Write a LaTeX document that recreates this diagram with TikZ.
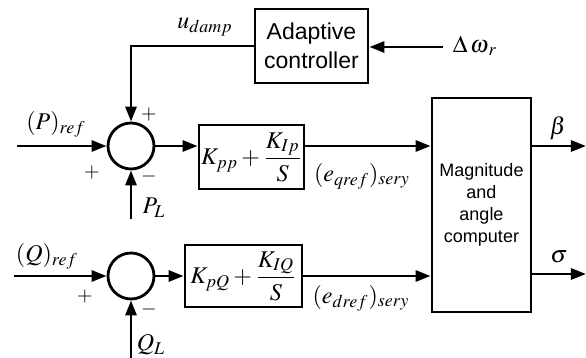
\documentclass[tikz,border=0pt]{standalone}
\usepackage{mathptmx}
\usepackage[no-math]{fontspec}
\setmainfont{Liberation Sans}
\usetikzlibrary{arrows.meta}
\begin{document}
\begin{tikzpicture}[x=0.5pt,y=-0.5pt,
  line width=1.4pt,
  blk/.style={draw, line width=1.4pt, inner sep=0pt, align=center},
  sumc/.style={draw, circle, minimum size=23pt, inner sep=0pt},
  arr/.style={-{Triangle[length=7.5pt,width=5.5pt]}},
  lbl/.style={font=\fontsize{12}{14}\selectfont, inner sep=0pt},
  sgn/.style={font=\fontsize{10}{12}\selectfont, inner sep=0pt},
]
\useasboundingbox (0,0) rectangle (586,358);
% blocks
\node[blk, minimum width=56.5pt, minimum height=37pt, font=\fontsize{11.5}{14.5}\selectfont] (adapt) at (311.5,46) {Adaptive\\controller};
\node[sumc] (sum1) at (131,146) {};
\node[sumc] (sum2) at (131,276) {};
\node[blk, minimum width=52.5pt, minimum height=32pt] (pi1) at (251.5,157) {\fontsize{12}{14}\selectfont$\displaystyle K_{pp}+\frac{K_{Ip}}{S}$};
\node[blk, minimum width=58.5pt, minimum height=31pt] (pi2) at (243.5,276) {\fontsize{12}{14}\selectfont$\displaystyle K_{pQ}+\frac{K_{IQ}}{S}$};
\node[blk, minimum width=49.5pt, minimum height=107pt, font=\fontsize{9}{11}\selectfont] (mag) at (481.5,205) {Magnitude\\and\\angle\\computer};
% free ends
\coordinate (pin) at (17,146);
\coordinate (qin) at (14,276);
\coordinate (pl) at (131,219);
\coordinate (ql) at (131,358);
\coordinate (dw) at (443,47);
\coordinate (bout) at (586,146);
\coordinate (sout) at (586,274);
% connectors
\draw[arr] (dw) -- (dw -| adapt.east);
\draw[arr] (adapt.west) -- (adapt.west -| sum1) -- (sum1.north);
\draw[arr] (pin) -- (sum1.west);
\draw[arr] (pl) -- (sum1.south);
\draw[arr] (sum1.east) -- (sum1.east -| pi1.west);
\draw[arr] (sum1 -| pi1.east) -- (sum1 -| mag.west);
\draw[arr] (qin) -- (sum2.west);
\draw[arr] (ql) -- (sum2.south);
\draw[arr] (sum2.east) -- (pi2.west);
\draw[arr] (pi2.east) -- (pi2.east -| mag.west);
\draw[arr] (sum1 -| mag.east) -- (bout);
\draw[arr] (sout -| mag.east) -- (sout);
% labels
\node[lbl] (ud) at (205,27) {$u_{damp}$};
\node[lbl] (dwl) at (475,46) {$\Delta\,\omega_{\,r}$};
\node[lbl] (pref) at (56,124) {$(P)_{ref}$};
\node[lbl] (qref) at (47,256) {$(Q)_{ref}$};
\node[lbl] (pll) at (154,208) {$P_L$};
\node[lbl] (qll) at (151,345) {$Q_L$};
\node[lbl] (bl) at (558,128) {$\beta$};
\node[lbl] (sl) at (559,257) {$\sigma$};
\node[lbl] (eq) at (362,176) {$(e_{qref})_{sery}$};
\node[lbl] (ed) at (361,298) {$(e_{dref})_{sery}$};
\node[sgn] (s1) at (149,115) {$+$};
\node[sgn] (s2) at (92,173) {$+$};
\node[sgn] (s3) at (149,177) {$-$};
\node[sgn] (s4) at (85,297) {$+$};
\node[sgn] (s5) at (149,310) {$-$};
\end{tikzpicture}
\end{document}
